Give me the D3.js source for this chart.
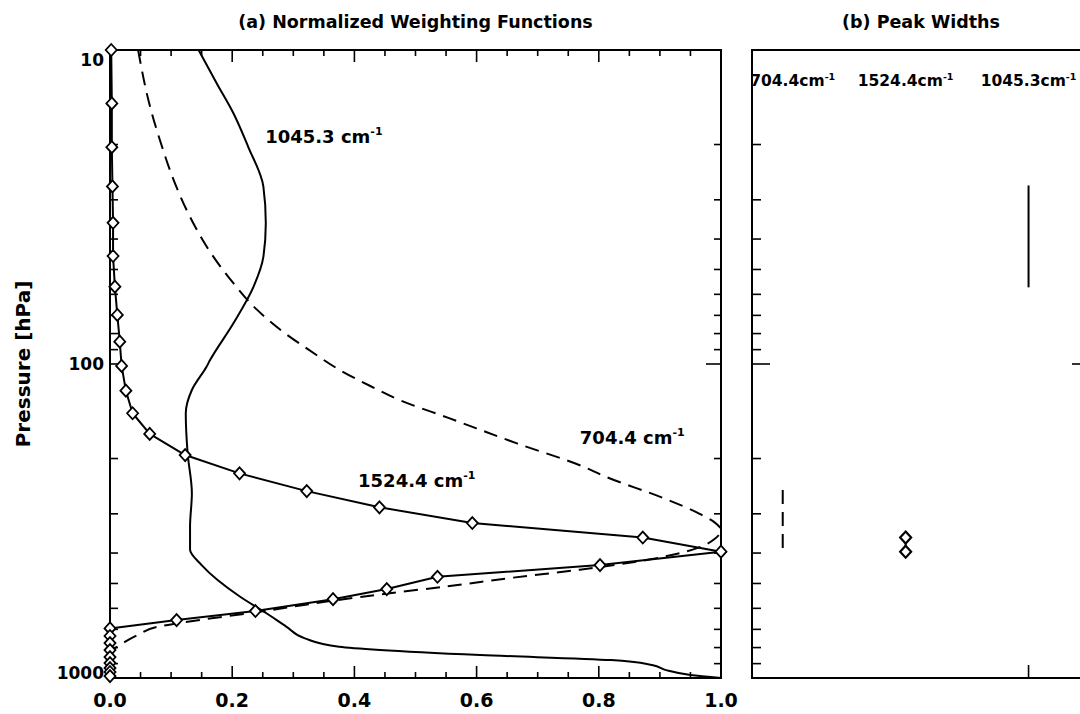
<!DOCTYPE html>
<html lang="en">
<head>
<meta charset="UTF-8">
<title>Normalized Weighting Functions / Peak Widths</title>
<script src="https://d3js.org/d3.v7.min.js"></script>
<style>
  body { margin: 0; background: #fff; }
  text { font-family: "DejaVu Sans", sans-serif; font-weight: bold; fill: #000; }
  .frame { fill: none; stroke: #000; stroke-width: 2; }
  .tick { stroke: #000; stroke-width: 1.6; }
  .curve { fill: none; stroke: #000; stroke-width: 2; stroke-linejoin: round; }
</style>
</head>
<body>
<svg width="1080" height="714"></svg>
<script>
// 1524.4 cm-1 weighting function (solid, diamonds at every level)
const p1524 = [10, 14.8, 20.4, 27.2, 35.5, 45.3, 56.7, 69.8, 84.9, 101.4, 121.6, 143.5, 167, 195, 223, 254, 286, 321, 357, 396,
               437, 476, 521, 561, 612, 654, 695, 735, 774, 815, 858, 896, 930, 957, 986];
const w1524 = [0.002, 0.003, 0.003, 0.004, 0.005, 0.005, 0.008, 0.012, 0.016, 0.019, 0.026, 0.037, 0.065, 0.123, 0.212, 0.322, 0.441, 0.593, 0.872, 1.0,
               0.802, 0.536, 0.453, 0.365, 0.238, 0.109, 0.0, 0.0, 0.0, 0.0, 0.0, 0.0, 0.0, 0.0, 0.0];

// 704.4 cm-1 weighting function (dashed)
const p704 = [10, 15, 20, 26.5, 34, 44, 55, 67, 80, 90, 104.5, 117.5, 130, 149, 179, 212, 228, 267, 300, 320, 338,
              360, 385, 421, 452, 479, 511, 537, 569, 617, 670, 684, 730, 766, 826, 880, 1000];
const w704 = [0.046, 0.065, 0.084, 0.106, 0.131, 0.164, 0.201, 0.240, 0.287, 0.325, 0.376, 0.426, 0.473, 0.556, 0.666, 0.774, 0.810, 0.905, 0.965, 0.99, 1.0,
              0.99, 0.962, 0.878, 0.769, 0.660, 0.551, 0.458, 0.36, 0.24, 0.109, 0.082, 0.045, 0.025, 0.003, 0.0, 0.0];

// 1045.3 cm-1 weighting function (solid)
const p1045 = [10, 12.8, 15.9, 20.3, 27.2, 35.6, 45.6, 56.7, 74.2, 97, 102, 121, 143.5, 192, 258, 330, 390, 437, 551, 622, 687, 748,
               795, 814, 845, 877, 909, 944, 978, 1000];
const w1045 = [0.145, 0.175, 0.202, 0.226, 0.251, 0.255, 0.251, 0.235, 0.202, 0.164, 0.158, 0.134, 0.124, 0.127, 0.134, 0.131, 0.131, 0.150, 0.213, 0.256, 0.289, 0.319,
               0.375, 0.442, 0.606, 0.82, 0.887, 0.91, 0.95, 1.0];

// panel (b): peak widths per channel (top / bottom pressure)
const channels = ["704.4", "1524.4", "1045.3"];
const peakTop = [252, 357, 27];
const peakBottom = [391, 396, 57];

const xTicks = [0, 0.2, 0.4, 0.6, 0.8, 1.0];
const yTicks = [10, 100, 1000];

const svg = d3.select("svg");
svg.append("rect").attr("width", 1080).attr("height", 714).attr("fill", "#fff");

const x = d3.scaleLinear().domain([0, 1]).range([110, 721]);
const y = d3.scaleLog().domain([10, 1000]).range([50, 678]);
const xb = d3.scaleLinear().domain([0.75, 3.5]).range([752, 1090]);

// minor/major log ticks
const logTicks = [];
for (let dec = 10; dec < 1000; dec *= 10) {
  for (let k = 1; k < 10; k++) logTicks.push({ v: dec * k, major: k === 1 });
}
logTicks.push({ v: 1000, major: true });

function frame(g, x0, x1) {
  g.append("rect").attr("class", "frame")
    .attr("x", x0).attr("y", y(10)).attr("width", x1 - x0).attr("height", y(1000) - y(10));
}

// ---------- panel (a) ----------
const ga = svg.append("g");
frame(ga, x(0), x(1));

// y ticks both sides
ga.selectAll(".ytl").data(logTicks).enter().append("line")
  .attr("class", "tick")
  .attr("x1", x(0)).attr("x2", d => x(0) + (d.major ? 15 : 8))
  .attr("y1", d => y(d.v)).attr("y2", d => y(d.v));
ga.selectAll(".ytr").data(logTicks).enter().append("line")
  .attr("class", "tick")
  .attr("x1", x(1)).attr("x2", d => x(1) - (d.major ? 15 : 7))
  .attr("y1", d => y(d.v)).attr("y2", d => y(d.v));

// x ticks top and bottom
const xMinor = d3.range(0, 1.0001, 0.05).map(v => ({ v: v, major: Math.abs(v / 0.2 - Math.round(v / 0.2)) < 1e-6 }));
ga.selectAll(".xtb").data(xMinor).enter().append("line")
  .attr("class", "tick")
  .attr("x1", d => x(d.v)).attr("x2", d => x(d.v))
  .attr("y1", y(1000)).attr("y2", d => y(1000) - (d.major ? 12 : 6));
ga.selectAll(".xtt").data(xMinor).enter().append("line")
  .attr("class", "tick")
  .attr("x1", d => x(d.v)).attr("x2", d => x(d.v))
  .attr("y1", y(10)).attr("y2", d => y(10) + (d.major ? 12 : 6));

ga.selectAll(".xl").data(xTicks).enter().append("text")
  .attr("x", d => x(d)).attr("y", 707)
  .attr("text-anchor", "middle").style("font-size", "19px")
  .text(d3.format(".1f"));

ga.selectAll(".yl").data(yTicks).enter().append("text")
  .attr("x", 104)
  .attr("y", (d, i) => y(d) + (i === 0 ? 10 : i === yTicks.length - 1 ? -5 : 0))
  .attr("dy", "0.36em")
  .attr("text-anchor", "end").style("font-size", "17px")
  .text(d => d);

svg.append("text")
  .attr("transform", "translate(30," + y(100) + ") rotate(-90)")
  .attr("text-anchor", "middle").style("font-size", "20px")
  .text("Pressure [hPa]");

svg.append("text")
  .attr("x", (x(0) + x(1)) / 2).attr("y", 28)
  .attr("text-anchor", "middle").style("font-size", "17.5px")
  .text("(a) Normalized Weighting Functions");

const line = d3.line().x(d => x(d[1])).y(d => y(d[0]));
const smooth = d3.line().curve(d3.curveMonotoneY).x(d => x(d[1])).y(d => y(d[0]));

ga.append("path").attr("class", "curve")
  .attr("d", smooth(d3.zip(p1045, w1045)));
ga.append("path").attr("class", "curve")
  .attr("stroke-dasharray", "14,8")
  .attr("d", smooth(d3.zip(p704, w704)));
ga.append("path").attr("class", "curve")
  .attr("d", line(d3.zip(p1524, w1524)));

const diamond = "M0,-6L5.5,0L0,6L-5.5,0Z";
ga.selectAll(".dm").data(d3.zip(p1524, w1524)).enter().append("path")
  .attr("d", diamond)
  .attr("transform", d => "translate(" + x(d[1]) + "," + y(d[0]) + ")")
  .attr("fill", "#fff").attr("stroke", "#000").attr("stroke-width", 1.8);

// curve labels (data coordinates)
const labA = [
  { name: "1045.3", v: 0.254, p: 19.8 },
  { name: "704.4", v: 0.769, p: 180 },
  { name: "1524.4", v: 0.406, p: 246 }
];
labA.forEach(l => {
  const t = ga.append("text").attr("x", x(l.v)).attr("y", y(l.p)).style("font-size", "18px");
  t.append("tspan").text(l.name + " cm");
  t.append("tspan").attr("dy", -8).style("font-size", "11px").text("-1");
});

// ---------- panel (b) ----------
const gb = svg.append("g");
frame(gb, xb(0.75), xb(3.5));
gb.selectAll(".ytl").data(logTicks).enter().append("line")
  .attr("class", "tick")
  .attr("x1", xb(0.75)).attr("x2", d => xb(0.75) + (d.major ? 18 : 9))
  .attr("y1", d => y(d.v)).attr("y2", d => y(d.v));
gb.selectAll(".ytr").data(logTicks).enter().append("line")
  .attr("class", "tick")
  .attr("x1", xb(3.5)).attr("x2", d => xb(3.5) - (d.major ? 18 : 9))
  .attr("y1", d => y(d.v)).attr("y2", d => y(d.v));
gb.append("line").attr("class", "tick")
  .attr("x1", xb(3)).attr("x2", xb(3))
  .attr("y1", y(1000)).attr("y2", y(1000) - 13);

svg.append("text")
  .attr("x", (xb(0.75) + xb(3.5)) / 2).attr("y", 28)
  .attr("text-anchor", "middle").style("font-size", "17.5px")
  .text("(b) Peak Widths");

channels.forEach((c, i) => {
  const t = gb.append("text").attr("x", xb(i + 1) + (i === 0 ? 10 : 0)).attr("y", 86)
    .attr("text-anchor", "middle").style("font-size", "15.5px");
  t.append("tspan").text(c + "cm");
  t.append("tspan").attr("dy", -6).style("font-size", "9.5px").text("-1");
});

// 704.4: dashed bar
gb.append("line").attr("class", "curve").attr("stroke-width", 3)
  .attr("stroke-dasharray", "14,8")
  .attr("x1", xb(1)).attr("x2", xb(1))
  .attr("y1", y(peakTop[0])).attr("y2", y(peakBottom[0]));
// 1524.4: diamonds
gb.append("line").attr("class", "curve")
  .attr("x1", xb(2)).attr("x2", xb(2))
  .attr("y1", y(peakTop[1])).attr("y2", y(peakBottom[1]));
gb.selectAll(".pd").data([peakTop[1], peakBottom[1]]).enter().append("path")
  .attr("d", diamond)
  .attr("transform", d => "translate(" + xb(2) + "," + y(d) + ")")
  .attr("fill", "#fff").attr("stroke", "#000").attr("stroke-width", 2.2);
// 1045.3: solid bar
gb.append("line").attr("class", "curve").attr("stroke-width", 4)
  .attr("x1", xb(3)).attr("x2", xb(3))
  .attr("y1", y(peakTop[2])).attr("y2", y(peakBottom[2]));
</script>
</body>
</html>
